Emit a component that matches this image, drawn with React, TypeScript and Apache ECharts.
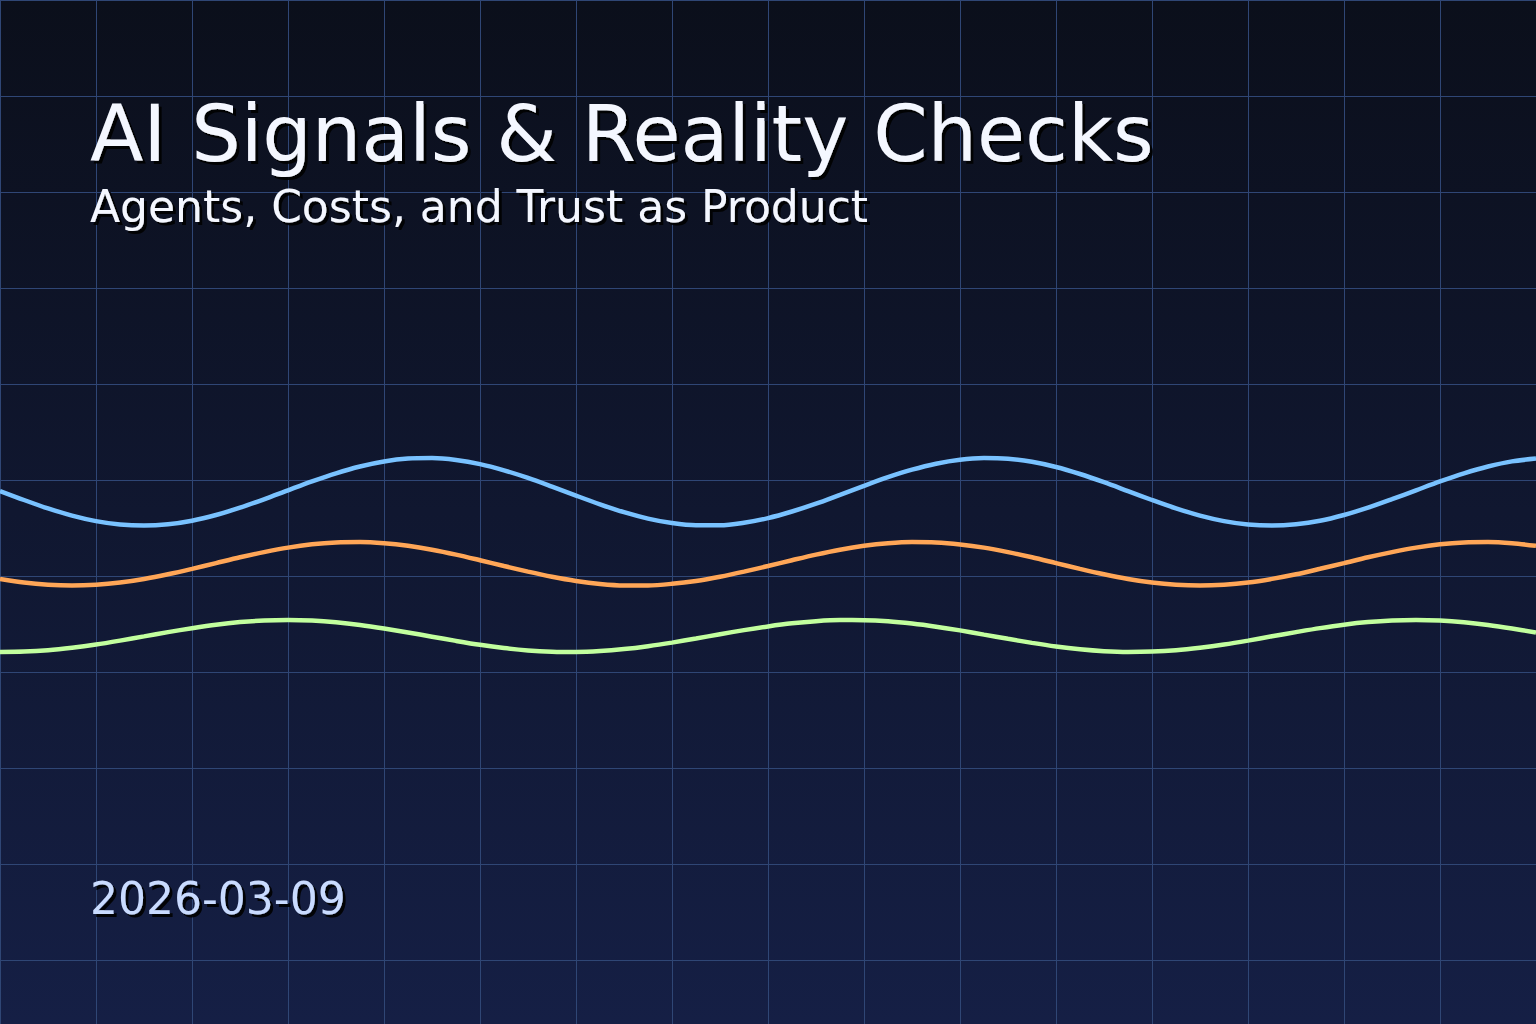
import React, { useEffect, useRef } from 'react';
import * as echarts from 'echarts';

// sample positions along the canvas (px) and the wave heights (px from top)
const xs = [0, 24, 48, 72, 96, 120, 144, 168, 192, 216, 240, 264, 288, 312, 336, 360, 384, 408,
  432, 456, 480, 504, 528, 552, 576, 600, 624, 648, 672, 696, 720, 744, 768, 792, 816, 840, 864,
  888, 912, 936, 960, 984, 1008, 1032, 1056, 1080, 1104, 1128, 1152, 1176, 1200, 1224, 1248, 1272,
  1296, 1320, 1344, 1368, 1392, 1416, 1440, 1464, 1488, 1512, 1536];
const blue = [491, 500, 508.4, 515.6, 521.1, 524.5, 525.6, 524.3, 520.7, 515, 507.7, 499.3, 490.3,
  481.4, 473.3, 466.5, 461.5, 458.6, 458.1, 460, 464.1, 470.3, 477.9, 486.6, 495.6, 504.3, 512.2,
  518.6, 523.1, 525.3, 525.3, 522.7, 518.1, 511.5, 503.7, 494.8, 485.8, 477.2, 469.7, 463.7, 459.7,
  458.1, 458.8, 461.8, 467, 474, 482.2, 491.1, 500, 508.4, 515.6, 521.1, 524.5, 525.6, 524.3, 520.8,
  515, 507.7, 499.2, 490.3, 481.4, 473.3, 466.5, 461.4, 458.6];
const orange = [578.9, 582.6, 584.8, 585.6, 584.8, 582.6, 579, 574.3, 568.9, 563.1, 557.3, 552.1,
  547.6, 544.3, 542.4, 542, 543.2, 545.8, 549.7, 554.6, 560.2, 566, 571.6, 576.7, 580.9, 583.9,
  585.4, 585.4, 583.8, 580.9, 576.7, 571.6, 566, 560.2, 554.6, 549.7, 545.8, 543.2, 542, 542.4,
  544.4, 547.6, 552.1, 557.3, 563.1, 568.9, 574.3, 579, 582.6, 584.8, 585.6, 584.8, 582.6, 578.9,
  574.3, 568.8, 563.1, 557.3, 552.1, 547.6, 544.3, 542.4, 542, 543.2, 545.8];
const green = [652, 651.6, 650.2, 647.7, 644.5, 640.6, 636.4, 632.1, 628.2, 624.7, 622.1, 620.5, 620,
  620.6, 622.3, 625, 628.5, 632.5, 636.7, 640.9, 644.8, 648, 650.4, 651.7, 652, 651.1, 649.1, 646.2,
  642.6, 638.5, 634.2, 630.1, 626.4, 623.3, 621.2, 620.1, 620.2, 621.3, 623.6, 626.7, 630.4, 634.6,
  638.8, 642.9, 646.5, 649.3, 651.2, 652, 651.6, 650.2, 647.7, 644.5, 640.6, 636.3, 632.1, 628.1,
  624.7, 622.1, 620.5, 620, 620.6, 622.3, 625, 628.5, 632.5];

const title = 'AI Signals & Reality Checks';
const subtitle = 'Agents, Costs, and Trust as Product';
const dateLabel = '2026-03-09';

const W = 1536;
const H = 1024;

function wave(name: string, ys: number[], color: string) {
  return {
    name,
    type: 'line',
    data: xs.map((x, i) => [x, ys[i]]),
    smooth: 0.3,
    showSymbol: false,
    silent: true,
    lineStyle: { color, width: 4.5 },
    z: 3,
  };
}

const shadow = {
  textShadowColor: 'rgba(0,0,0,0.9)',
  textShadowBlur: 1,
  textShadowOffsetX: 3,
  textShadowOffsetY: 3,
};

export default function App() {
  const ref = useRef<HTMLDivElement>(null);
  useEffect(() => {
    if (!ref.current) return;
    const chart = echarts.init(ref.current, null, { renderer: 'svg' });
    chart.setOption({
      animation: false,
      backgroundColor: new echarts.graphic.LinearGradient(0, 0, 0, 1, [
        { offset: 0, color: '#0b0f1b' },
        { offset: 1, color: '#151f45' },
      ]),
      grid: { left: 0, right: 0, top: 0, bottom: 0 },
      xAxis: {
        type: 'value', min: 0, max: W, interval: 96,
        axisLine: { show: false }, axisTick: { show: false }, axisLabel: { show: false },
        splitLine: { show: true, lineStyle: { color: '#2f4675', width: 1 } },
      },
      yAxis: {
        type: 'value', min: 0, max: H, interval: 96, inverse: true,
        axisLine: { show: false }, axisTick: { show: false }, axisLabel: { show: false },
        splitLine: { show: true, showMaxLine: false, lineStyle: { color: '#2f4675', width: 1 } },
      },
      series: [
        wave('signal', blue, '#79c2ff'),
        wave('cost', orange, '#ffa657'),
        wave('trust', green, '#c2ff9e'),
      ],
      graphic: [
        {
          type: 'text', left: 90, top: 95, z: 10, silent: true,
          style: { text: title, fill: '#f4f7ff', font: '78px "DejaVu Sans"', ...shadow },
        },
        {
          type: 'text', left: 90, top: 184, z: 10, silent: true,
          style: { text: subtitle, fill: '#f4f7ff', font: '44px "DejaVu Sans"', ...shadow },
        },
        {
          type: 'text', left: 90, top: 876, z: 10, silent: true,
          style: { text: dateLabel, fill: '#c9dbff', font: '44px "DejaVu Sans"', ...shadow },
        },
      ],
    });
    return () => { chart.dispose(); };
  }, []);
  return <div ref={ref} style={{ position: 'fixed', left: 0, top: 0, width: W, height: H }} />;
}
